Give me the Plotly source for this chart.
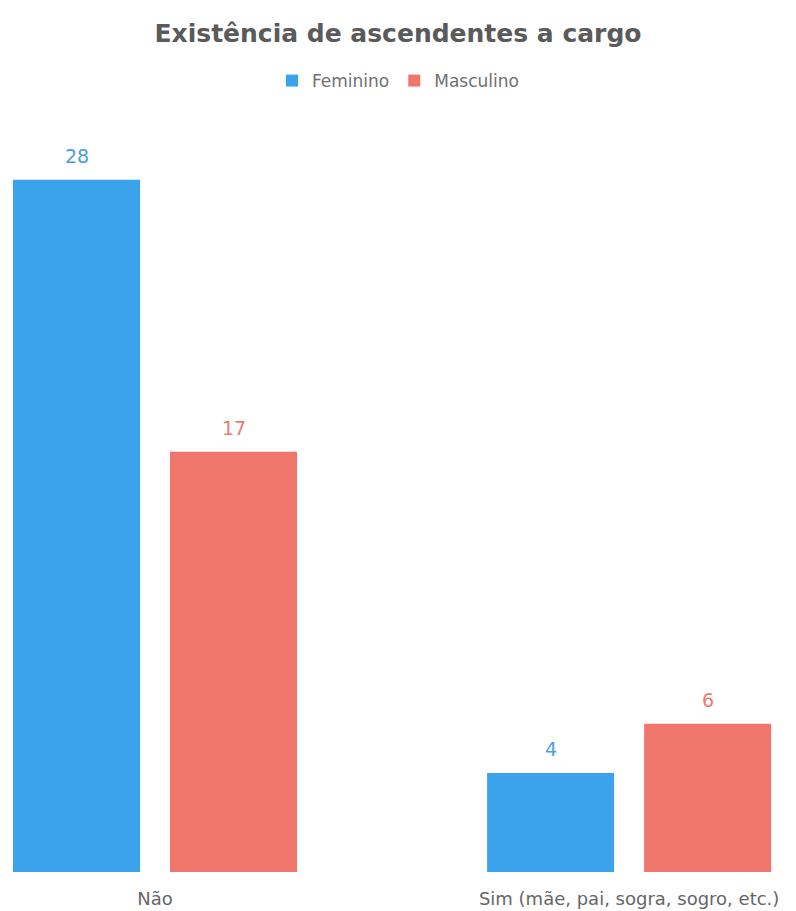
import plotly.graph_objects as go

categories = ["Não", "Sim (mãe, pai, sogra, sogro, etc.)"]
feminino = [28, 4]
masculino = [17, 6]

blue = "#3AA3EC"
red = "#EE766B"
blue_text = "#4A9EE0"
red_text = "#EC7A6E"

fig = go.Figure()
fig.add_trace(go.Bar(
    name="Feminino", x=categories, y=feminino,
    marker=dict(color=blue, line=dict(width=0)),
))
fig.add_trace(go.Bar(
    name="Masculino", x=categories, y=masculino,
    marker=dict(color=red, line=dict(width=0)),
))

# value labels above each bar, placed at the bar's own value
annotations = []
for values, color, shift in ((feminino, blue_text, -78.5), (masculino, red_text, 78.5)):
    for cat, v in zip(categories, values):
        annotations.append(dict(
            x=cat, y=v, xref="x", yref="y", text=str(v), showarrow=False,
            xshift=shift, yshift=24, yanchor="middle",
            font=dict(family="DejaVu Sans", size=19, color=color),
        ))

fig.update_layout(
    width=796, height=911,
    margin=dict(l=0, r=0, t=150, b=39),
    paper_bgcolor="white", plot_bgcolor="white",
    barmode="group", bargap=0.3376, bargroupgap=0.191,
    title=dict(
        text="<b>Existência de ascendentes a cargo</b>",
        x=0.5, xanchor="center", y=1 - 33 / 911, yanchor="middle",
        font=dict(family="DejaVu Sans", size=25, color="#5A5A5A"),
    ),
    legend=dict(
        orientation="h", x=0.5, xanchor="center", y=1 - 81 / 911, yref="container",
        yanchor="middle", font=dict(family="DejaVu Sans", size=17, color="#707070"),
        itemwidth=30, traceorder="normal",
    ),
    showlegend=True,
    annotations=annotations,
    font=dict(family="DejaVu Sans", color="#595959"),
)
fig.update_xaxes(
    range=[-0.327, 1.352], showline=False, showgrid=False, ticks="",
    ticklabelstandoff=14,
    tickfont=dict(family="DejaVu Sans", size=18, color="#666666"),
)
fig.update_yaxes(range=[0, 29.2], visible=False)

fig.write_html("out.html")
